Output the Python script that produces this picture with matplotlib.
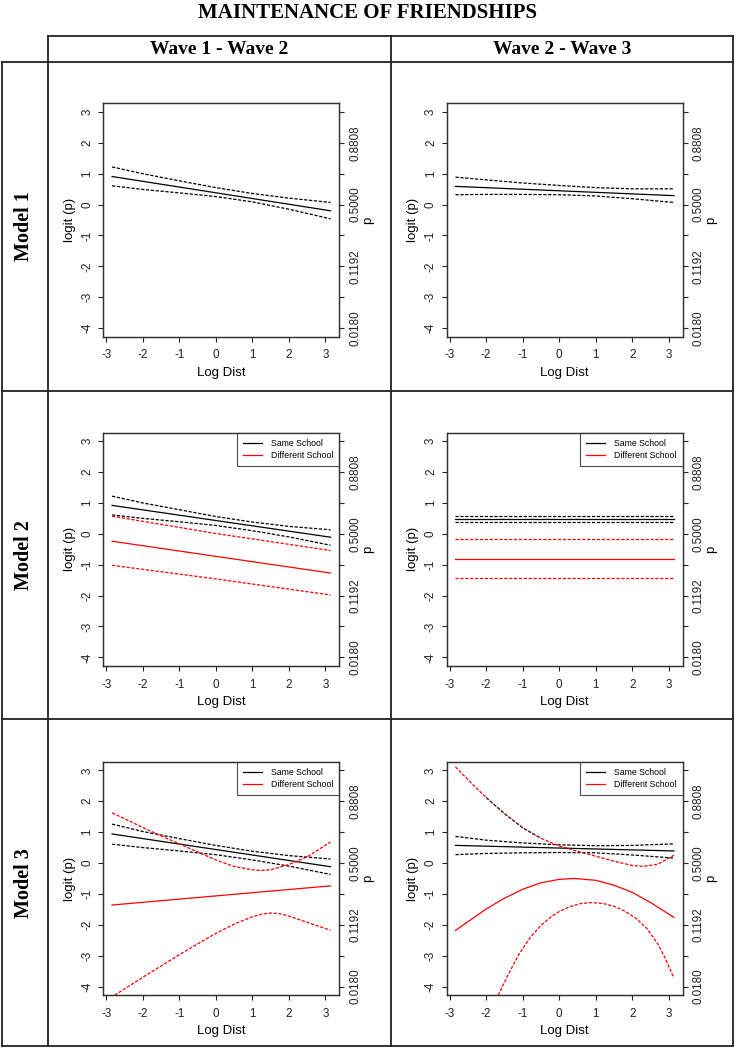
import numpy as np
import matplotlib.pyplot as plt
from matplotlib.lines import Line2D

plt.rcParams['font.family'] = ['Liberation Sans', 'DejaVu Sans']
plt.rcParams['axes.unicode_minus'] = False

# ---- data (logit scale) ----
x_ends = [-2.84, 3.14]
x7 = [-2.84, -2, -1, 0, 1, 2, 3.14]

# Model 1, wave 1-2
m1_w12_fit = [0.91, -0.20]
m1_w12_hi = [1.22, 1.00, 0.77, 0.55, 0.36, 0.21, 0.07]
m1_w12_lo = [0.61, 0.49, 0.38, 0.26, 0.09, -0.15, -0.46]

# Model 1, wave 2-3
m1_w23_fit = [0.59, 0.29]
m1_w23_hi = [0.89, 0.80, 0.70, 0.62, 0.55, 0.51, 0.51]
m1_w23_lo = [0.32, 0.33, 0.33, 0.32, 0.28, 0.19, 0.07]

# Model 2, wave 1-2
m2_w12_same_fit = [0.92, -0.11]
m2_w12_same_hi = [1.22, 1.00, 0.78, 0.56, 0.38, 0.24, 0.13]
m2_w12_same_lo = [0.61, 0.50, 0.39, 0.27, 0.10, -0.10, -0.37]
x3 = [-2.84, 0, 3.14]
m2_w12_diff_fit = [-0.24, -0.73, -1.27]
m2_w12_diff_hi = [0.57, 0.01, -0.54]
m2_w12_diff_lo = [-1.02, -1.46, -1.98]

# Model 2, wave 2-3
m2_w23_same_fit = [0.48, 0.48]
m2_w23_same_hi = [0.57, 0.57]
m2_w23_same_lo = [0.38, 0.38]
m2_w23_diff_fit = [-0.81, -0.81]
m2_w23_diff_hi = [-0.16, -0.16]
m2_w23_diff_lo = [-1.43, -1.43]

# Model 3, wave 1-2
m3_w12_same_fit = [0.94, -0.12]
m3_w12_same_hi = [1.26, 1.02, 0.79, 0.57, 0.38, 0.24, 0.13]
m3_w12_same_lo = [0.61, 0.50, 0.39, 0.27, 0.10, -0.10, -0.37]
m3_w12_diff_fit = [-1.36, -0.74]
m3_w12_diff_hi_x = [-2.84, -2.4, -2, -1.5, -1, -0.5, 0, 0.5, 1, 1.25, 1.5, 2, 2.5, 3.14]
m3_w12_diff_hi = [1.62, 1.38, 1.15, 0.88, 0.62, 0.36, 0.10, -0.11, -0.22, -0.24, -0.22,
                  -0.05, 0.20, 0.68]
m3_w12_diff_lo_x = [-2.77, -2, -1, -0.5, 0, 0.5, 1, 1.25, 1.5, 1.75, 2, 2.5, 3.14]
m3_w12_diff_lo = [-4.28, -3.70, -2.97, -2.62, -2.28, -1.98, -1.74, -1.66, -1.62, -1.64,
                  -1.72, -1.92, -2.18]

# Model 3, wave 2-3
m3_w23_same_fit = [0.57, 0.39]
m3_w23_same_hi = [0.86, 0.74, 0.65, 0.59, 0.56, 0.57, 0.62]
m3_w23_same_lo = [0.27, 0.31, 0.33, 0.34, 0.33, 0.26, 0.16]
m3_w23_diff_fit_x = [-2.84, -2.4, -2, -1.5, -1, -0.5, 0, 0.4, 1, 1.5, 2, 2.5, 3.14]
m3_w23_diff_fit = [-2.18, -1.82, -1.49, -1.14, -0.85, -0.64, -0.53, -0.50, -0.56, -0.72,
                   -0.95, -1.28, -1.76]
m3_w23_diff_hi_x = [-2.84, -2.4, -2, -1.5, -1, -0.5, 0, 0.5, 1, 1.5, 2, 2.3, 2.7, 3.14]
m3_w23_diff_hi = [3.11, 2.58, 2.12, 1.60, 1.14, 0.80, 0.55, 0.38, 0.22, 0.06, -0.08, -0.11,
                  -0.04, 0.25]
m3_w23_diff_lo_x = [-1.67, -1.4, -1.1, -0.8, -0.5, -0.2, 0, 0.3, 0.6, 0.9, 1.2, 1.5,
                    1.8, 2.1, 2.4, 2.7, 2.9, 3.14]
m3_w23_diff_lo = [-4.28, -3.62, -2.95, -2.42, -2.02, -1.72, -1.57, -1.41, -1.31, -1.28,
                  -1.31, -1.40, -1.56, -1.79, -2.12, -2.62, -3.08, -3.73]

p_ticks = [-4, -3, -2, -1, 0, 1, 2, 3]
p_labels = ['0.0180', '', '0.1192', '', '0.5000', '', '0.8808', '']

col_titles = ['Wave 1 - Wave 2', 'Wave 2 - Wave 3']
row_titles = ['Model 1', 'Model 2', 'Model 3']

# panel contents: (x, y, colour, dashed)
panels = [
    [[(x_ends, m1_w12_fit, 'k', False), (x7, m1_w12_hi, 'k', True), (x7, m1_w12_lo, 'k', True)],
     [(x_ends, m1_w23_fit, 'k', False), (x7, m1_w23_hi, 'k', True), (x7, m1_w23_lo, 'k', True)]],
    [[(x_ends, m2_w12_same_fit, 'k', False), (x7, m2_w12_same_hi, 'k', True), (x7, m2_w12_same_lo, 'k', True),
      (x3, m2_w12_diff_fit, 'red', False), (x3, m2_w12_diff_hi, 'red', True), (x3, m2_w12_diff_lo, 'red', True)],
     [(x_ends, m2_w23_same_fit, 'k', False), (x_ends, m2_w23_same_hi, 'k', True), (x_ends, m2_w23_same_lo, 'k', True),
      (x_ends, m2_w23_diff_fit, 'red', False), (x_ends, m2_w23_diff_hi, 'red', True), (x_ends, m2_w23_diff_lo, 'red', True)]],
    [[(x_ends, m3_w12_same_fit, 'k', False), (x7, m3_w12_same_hi, 'k', True), (x7, m3_w12_same_lo, 'k', True),
      (x_ends, m3_w12_diff_fit, 'red', False), (m3_w12_diff_hi_x, m3_w12_diff_hi, 'red', True),
      (m3_w12_diff_lo_x, m3_w12_diff_lo, 'red', True)],
     [(x_ends, m3_w23_same_fit, 'k', False), (x7, m3_w23_same_hi, 'k', True), (x7, m3_w23_same_lo, 'k', True),
      (m3_w23_diff_fit_x, m3_w23_diff_fit, 'red', False), (m3_w23_diff_hi_x, m3_w23_diff_hi, 'red', True),
      (m3_w23_diff_lo_x, m3_w23_diff_lo, 'red', True),
      # the reference shows a dark stretch over this part of the upper red band
      (m3_w23_diff_hi_x[2:6], m3_w23_diff_hi[2:6], '#333333', True)]],
]

W, H = 737, 1050
fig = plt.figure(figsize=(W / 100, H / 100), dpi=100)


def fx(px):
    return px / W


def fy(py):
    return 1 - py / H


def hline(y, x0, x1):
    fig.add_artist(Line2D([fx(x0), fx(x1)], [fy(y), fy(y)], color='#222222', lw=1.3))


def vline(x, y0, y1):
    fig.add_artist(Line2D([fx(x), fx(x)], [fy(y0), fy(y1)], color='#222222', lw=1.3))


# table grid
hline(36, 48, 733)
for y in [62, 391, 719, 1046]:
    hline(y, 2, 733)
vline(2, 62, 1046)
for x in [48, 391, 733]:
    vline(x, 36, 1046)

serif = ['Liberation Serif', 'DejaVu Serif']
fig.text(fx(368), fy(13), 'MAINTENANCE OF FRIENDSHIPS', ha='center', va='center',
         family=serif, weight='bold', fontsize=15)
for i, t in enumerate(col_titles):
    fig.text(fx([219.5, 562][i]), fy(49), t, ha='center', va='center',
             family=serif, weight='bold', fontsize=14)
for i, t in enumerate(row_titles):
    fig.text(fx(24), fy([226, 555, 883][i]), t, ha='center', va='center', rotation=90,
             family=serif, weight='bold', fontsize=14.5)

col_left = [103.3, 446.7]
row_top = [103.3, 432.5, 761.7]
ax_w, ax_h = 236, 233.5

for r in range(3):
    for c in range(2):
        ax = fig.add_axes([fx(col_left[c]), fy(row_top[r] + ax_h), ax_w / W, ax_h / H])
        for xs, ys, col, dashed in panels[r][c]:
            ax.plot(xs, ys, color=col, lw=0.9, dashes=(2.6, 1.3) if dashed else (None, None))
        ax.set_xlim(-3.08, 3.38)
        ax.set_ylim(-4.28, 3.28)
        ax.set_xticks(range(-3, 4))
        ax.set_yticks(range(-4, 4))
        ax.tick_params(direction='out', length=3.5, width=0.8, labelsize=8.4, colors='#222222')
        ax.tick_params(axis='x', pad=5.5)
        ax.tick_params(axis='y', pad=3.5, labelrotation=90)
        for lab in ax.get_yticklabels():
            lab.set_va('center')
        for s in ax.spines.values():
            s.set_linewidth(0.9)
            s.set_color('#333333')
        ax.set_xlabel('Log Dist', fontsize=9.5)
        ax.set_ylabel('logit (p)', fontsize=9.5)
        ax.xaxis.set_label_coords(0.5, -0.155)
        ax.xaxis.label.set_va('center')
        ax.yaxis.set_label_coords(-0.141, 0.5)
        ax.yaxis.label.set_va('center')

        ax2 = ax.twinx()
        ax2.set_ylim(-4.28, 3.28)
        ax2.set_yticks(p_ticks)
        ax2.set_yticklabels(p_labels)
        ax2.tick_params(direction='out', length=3.5, width=0.8, labelsize=8.4, pad=3.5,
                        labelrotation=90, colors='#222222')
        for lab in ax2.get_yticklabels():
            lab.set_va('center')
        for s in ax2.spines.values():
            s.set_linewidth(0.9)
            s.set_color('#333333')
        ax2.set_ylabel('p', fontsize=9.5, rotation=90)
        ax2.yaxis.set_label_coords(1.122, 0.5)
        ax2.yaxis.label.set_va('center')

        if r > 0:
            handles = [Line2D([], [], color='k', lw=0.9), Line2D([], [], color='red', lw=0.9)]
            leg = ax.legend(handles, ['Same School', 'Different School'], loc='upper right',
                            fontsize=6.3, fancybox=False, borderaxespad=0, handlelength=2.2,
                            handletextpad=1.0, labelspacing=0.35, borderpad=0.7)
            leg.get_frame().set_edgecolor('#222222')
            leg.get_frame().set_linewidth(0.8)
            leg.set_zorder(5)

fig.savefig('out.png', dpi=100)
